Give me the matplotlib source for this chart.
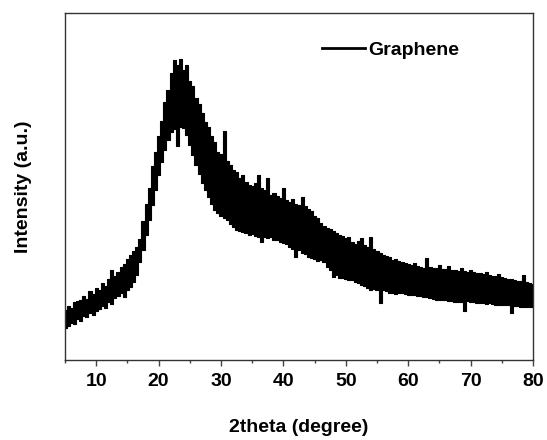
import matplotlib
matplotlib.use('Agg')
import matplotlib.pyplot as plt
from matplotlib.lines import Line2D
from matplotlib.ticker import MultipleLocator, AutoMinorLocator
import numpy as np


# 2theta grid, 5 .. 80 deg in 0.5 deg steps
two_theta = np.arange(5.0, 80.01, 0.5)

# upper edge of the noisy band (a.u.)
upper = [
    500, 545, 525, 580, 590, 605, 640, 615, 690, 665,
    720, 700, 775, 745, 815, 900, 845, 880, 935, 965,
    1015, 1055, 1090, 1135, 1210, 1390, 1560, 1720, 1940, 2080,
    2240, 2390, 2580, 2700, 2870, 3000, 2950, 3010, 2900, 2950,
    2790, 2740, 2620, 2560, 2470, 2380, 2330, 2240, 2180, 2080,
    2060, 2290, 1990, 1950, 1900, 1880, 1820, 1850, 1780, 1750,
    1740, 1770, 1850, 1720, 1700, 1820, 1650, 1670, 1640, 1620,
    1720, 1600, 1580, 1610, 1560, 1550, 1630, 1540, 1510, 1490,
    1440, 1420, 1370, 1340, 1320, 1310, 1290, 1270, 1250, 1240,
    1220, 1230, 1180, 1160, 1190, 1220, 1150, 1130, 1230, 1110,
    1090, 1070, 1050, 1040, 1030, 1000, 1010, 990, 980, 970,
    960, 950, 970, 940, 935, 925, 1020, 930, 925, 920,
    950, 915, 910, 940, 900, 905, 895, 920, 890, 885,
    900, 880, 870, 875, 860, 880, 850, 845, 840, 860,
    830, 820, 815, 810, 800, 795, 790, 850, 780, 770,
    760,
]

# lower edge of the noisy band (a.u.)
lower = [
    320, 340, 370, 360, 410, 395, 440, 430, 470, 455,
    490, 510, 540, 520, 580, 560, 620, 640, 670, 630,
    700, 730, 780, 850, 980, 1100, 1250, 1400, 1550, 1700,
    1850, 1980, 2100, 2200, 2280, 2310, 2140, 2330, 2320, 2250,
    2150, 2050, 1950, 1860, 1770, 1700, 1630, 1560, 1500, 1470,
    1440, 1420, 1400, 1360, 1330, 1300, 1290, 1280, 1270, 1250,
    1260, 1240, 1230, 1180, 1230, 1220, 1230, 1200, 1200, 1180,
    1170, 1160, 1130, 1110, 1030, 1100, 1070, 1060, 1030, 1020,
    1010, 990, 1000, 980, 930, 900, 830, 850, 820, 820,
    810, 800, 800, 780, 770, 750, 740, 720, 700, 710,
    700, 570, 700, 690, 670, 670, 660, 670, 670, 660,
    650, 655, 650, 640, 640, 630, 630, 620, 610, 600,
    605, 600, 600, 590, 590, 580, 585, 580, 490, 590,
    580, 580, 575, 570, 570, 565, 570, 560, 555, 550,
    555, 550, 550, 470, 545, 540, 535, 530, 535, 530,
    530,
]

plt.rcParams['font.family'] = ['Liberation Sans', 'DejaVu Sans']
plt.rcParams['font.weight'] = 'bold'
plt.rcParams['font.size'] = 14

fig = plt.figure(figsize=(5.47, 4.40), dpi=100)
ax = fig.add_axes([65 / 547, 1 - 360 / 440, 468 / 547, 347 / 440])

ax.fill_between(two_theta, lower, upper, step='mid',
                facecolor='black', edgecolor='black', linewidth=0.8)

ax.set_xlim(5, 80)
ax.set_ylim(0, 3470)
ax.xaxis.set_major_locator(MultipleLocator(10))
ax.xaxis.set_minor_locator(AutoMinorLocator(2))
ax.set_yticks([])
ax.tick_params(axis='x', which='major', direction='out', length=4.5,
               width=1, color='#444444', pad=5, labelsize=14)
ax.tick_params(axis='x', which='minor', direction='out', length=2.5,
               width=1, color='#444444')
for s in ax.spines.values():
    s.set_color('#333333')
    s.set_linewidth(1)

ax.set_xlabel('2theta (degree)', fontweight='bold', labelpad=21)
ax.set_ylabel('Intensity (a.u.)', fontweight='bold', labelpad=24)

handle = Line2D([], [], color='black', linewidth=2)
ax.legend([handle], ['Graphene'], loc='center left',
          bbox_to_anchor=(0.549, 0.893), frameon=False,
          borderpad=0, borderaxespad=0, handlelength=2.2,
          handletextpad=0.2, prop={'weight': 'bold', 'size': 14})

fig.savefig('out.png', dpi=100)
